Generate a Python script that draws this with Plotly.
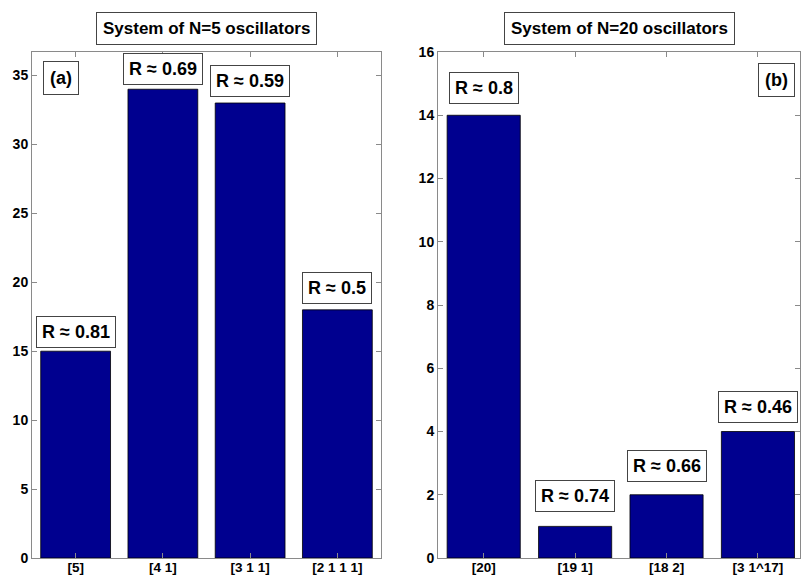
import plotly.graph_objects as go

# Data
cats_a = ["[5]", "[4 1]", "[3 1 1]", "[2 1 1 1]"]
vals_a = [15, 34, 33, 18]
r_a = ["R ≈ 0.81", "R ≈ 0.69", "R ≈ 0.59", "R ≈ 0.5"]

cats_b = ["[20]", "[19 1]", "[18 2]", "[3 1^17]"]
vals_b = [14, 1, 2, 4]
r_b = ["R ≈ 0.8", "R ≈ 0.74", "R ≈ 0.66", "R ≈ 0.46"]

yticks_a = [0, 5, 10, 15, 20, 25, 30, 35]
yticks_b = [0, 2, 4, 6, 8, 10, 12, 14, 16]

# Label gaps above bars (pixels)
gap_a = [3, 4, 6, 6]
gap_b = [11, 14, 13, 9]

FONT = "Liberation Sans, Arial, Helvetica, sans-serif"
BAR = "#00008F"
AX = "#8a8a8a"

pos = [1, 2, 3, 4]

fig = go.Figure()
fig.add_trace(go.Bar(x=pos, y=vals_a, width=0.8, marker=dict(color=BAR, line=dict(color="black", width=0.8)),
                     xaxis="x", yaxis="y", showlegend=False, hoverinfo="skip"))
fig.add_trace(go.Bar(x=pos, y=vals_b, width=0.8, marker=dict(color=BAR, line=dict(color="black", width=0.8)),
                     xaxis="x2", yaxis="y2", showlegend=False, hoverinfo="skip"))

axcommon = dict(showline=True, linecolor=AX, linewidth=1, mirror="ticks", ticks="inside",
                ticklen=5, tickcolor=AX, showgrid=False, zeroline=False, automargin=False,
                tickfont=dict(family=FONT, size=14, color="black", weight="bold"))
xcommon = dict(axcommon, tickfont=dict(family=FONT, size=13.5, color="black", weight="bold"),
               ticklabelstandoff=-3)

fig.update_layout(
    template="none",
    width=801, height=576,
    margin=dict(l=0, r=0, t=0, b=0, pad=0),
    paper_bgcolor="white", plot_bgcolor="white",
    bargap=0.2,
    xaxis=dict(domain=[32/801, 381/801], range=[0.5, 4.5], tickvals=pos, ticktext=cats_a,
               anchor="y", **xcommon),
    yaxis=dict(domain=[1-558/576, 1-52/576], range=[0, 36.7], tickvals=yticks_a,
               anchor="x", **axcommon),
    xaxis2=dict(domain=[438/801, 800/801], range=[0.5, 4.46], tickvals=pos, ticktext=cats_b,
                anchor="y2", **xcommon),
    yaxis2=dict(domain=[1-558/576, 1-52/576], range=[0, 16], tickvals=yticks_b,
                anchor="x2", **axcommon),
)

anns = []
boxfont = dict(family=FONT, size=18, color="black", weight="bold")
for i, (v, t) in enumerate(zip(vals_a, r_a)):
    anns.append(dict(x=pos[i], y=v, xref="x", yref="y", text=t, showarrow=False,
                     xanchor="center", yanchor="bottom", yshift=gap_a[i], font=boxfont,
                     bordercolor="#444", borderwidth=1, borderpad=5, bgcolor="white"))
for i, (v, t) in enumerate(zip(vals_b, r_b)):
    anns.append(dict(x=pos[i], y=v, xref="x2", yref="y2", text=t, showarrow=False,
                     xanchor="center", yanchor="bottom", yshift=gap_b[i], font=boxfont,
                     bordercolor="#444", borderwidth=1, borderpad=5, bgcolor="white"))

# panel labels
anns.append(dict(x=43/801, y=1-61/576, xref="paper", yref="paper", text="(a)", showarrow=False,
                 xanchor="left", yanchor="top", font=boxfont,
                 bordercolor="#444", borderwidth=1, borderpad=6, bgcolor="white"))
anns.append(dict(x=795/801, y=1-63/576, xref="paper", yref="paper", text="(b)", showarrow=False,
                 xanchor="right", yanchor="top", font=boxfont,
                 bordercolor="#444", borderwidth=1, borderpad=6, bgcolor="white"))

# titles
titlefont = dict(family=FONT, size=17, color="black", weight="bold")
anns.append(dict(x=(32+381)/2/801, y=1-28/576, xref="paper", yref="paper",
                 text="System of N=5 oscillators", showarrow=False, font=titlefont,
                 xanchor="center", yanchor="middle",
                 bordercolor="#444", borderwidth=1, borderpad=6, bgcolor="white"))
anns.append(dict(x=(438+800)/2/801, y=1-28/576, xref="paper", yref="paper",
                 text="System of N=20 oscillators", showarrow=False, font=titlefont,
                 xanchor="center", yanchor="middle",
                 bordercolor="#444", borderwidth=1, borderpad=6, bgcolor="white"))

fig.update_layout(annotations=anns)
fig.write_html("out.html", config={"displayModeBar": False},
               post_script="document.body.style.margin='0';")
